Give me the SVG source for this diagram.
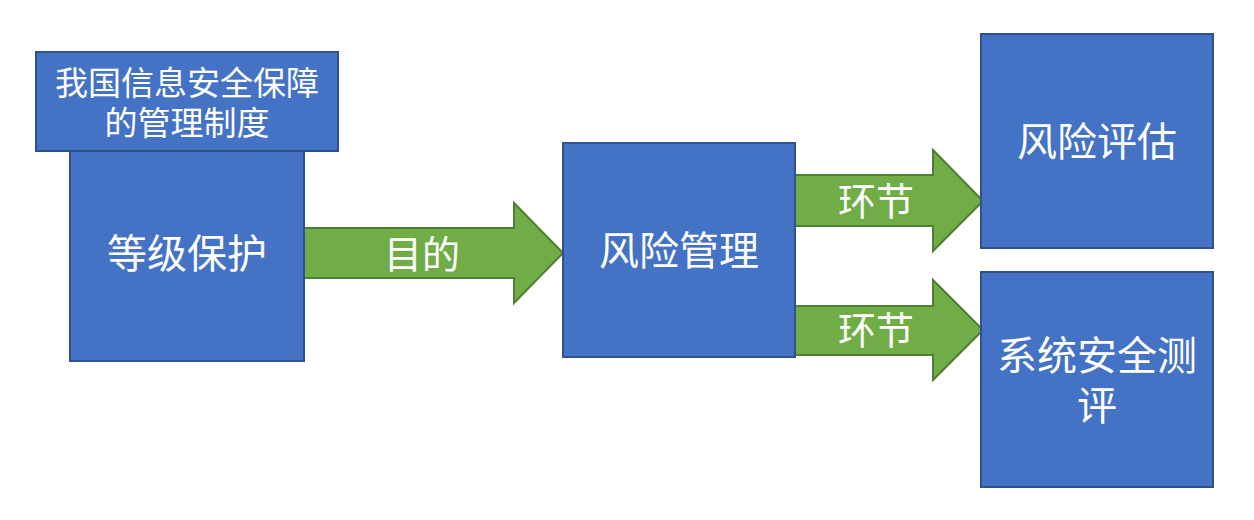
<svg xmlns="http://www.w3.org/2000/svg" width="1254" height="520" viewBox="0 0 1254 520">
<style>
.box{fill:#4472C4;stroke:#2F528F;stroke-width:2}
.arr{fill:#70AD47;stroke:#507E32;stroke-width:2}
text{font-family:"Noto Sans CJK SC","Microsoft YaHei",sans-serif;fill:#FFFFFF;text-anchor:middle;dominant-baseline:central}
.t40{font-size:40px}
.t38{font-size:38px}
.t33{font-size:33px}
</style>
<rect width="1254" height="520" fill="#FFFFFF"/>
<g id="connectors">
<g id="arrow-mudi">
<polygon class="arr" points="304,228 514,228 514,203 563,253 514,303 514,278 304,278"/>
<text class="t38" x="422" y="251">目的</text>
</g>
<g id="arrow-huanjie-1">
<polygon class="arr" points="795,175 933,175 933,150 983,201 933,251 933,226 795,226"/>
<text class="t38" x="876" y="198">环节</text>
</g>
<g id="arrow-huanjie-2">
<polygon class="arr" points="795,306 933,306 933,280 983,330 933,380 933,355 795,355"/>
<text class="t38" x="876" y="327">环节</text>
</g>
</g>
<g id="node-dengji">
<rect class="box" x="70" y="151" width="234" height="210"/>
<text class="t40" x="187" y="251">等级保护</text>
</g>
<g id="node-zhidu">
<rect class="box" x="36" y="52" width="302" height="99"/>
<text class="t33" x="187" y="81">我国信息安全保障</text>
<text class="t33" x="187" y="121">的管理制度</text>
</g>
<g id="node-fengxianguanli">
<rect class="box" x="563" y="143" width="232" height="214"/>
<text class="t40" x="679" y="248">风险管理</text>
</g>
<g id="node-fengxianpinggu">
<rect class="box" x="981" y="34" width="232" height="214"/>
<text class="t40" x="1097" y="139">风险评估</text>
</g>
<g id="node-ceping">
<rect class="box" x="981" y="272" width="232" height="215"/>
<text class="t40" x="1097" y="353">系统安全测</text>
<text class="t40" x="1097" y="403">评</text>
</g>
</svg>
